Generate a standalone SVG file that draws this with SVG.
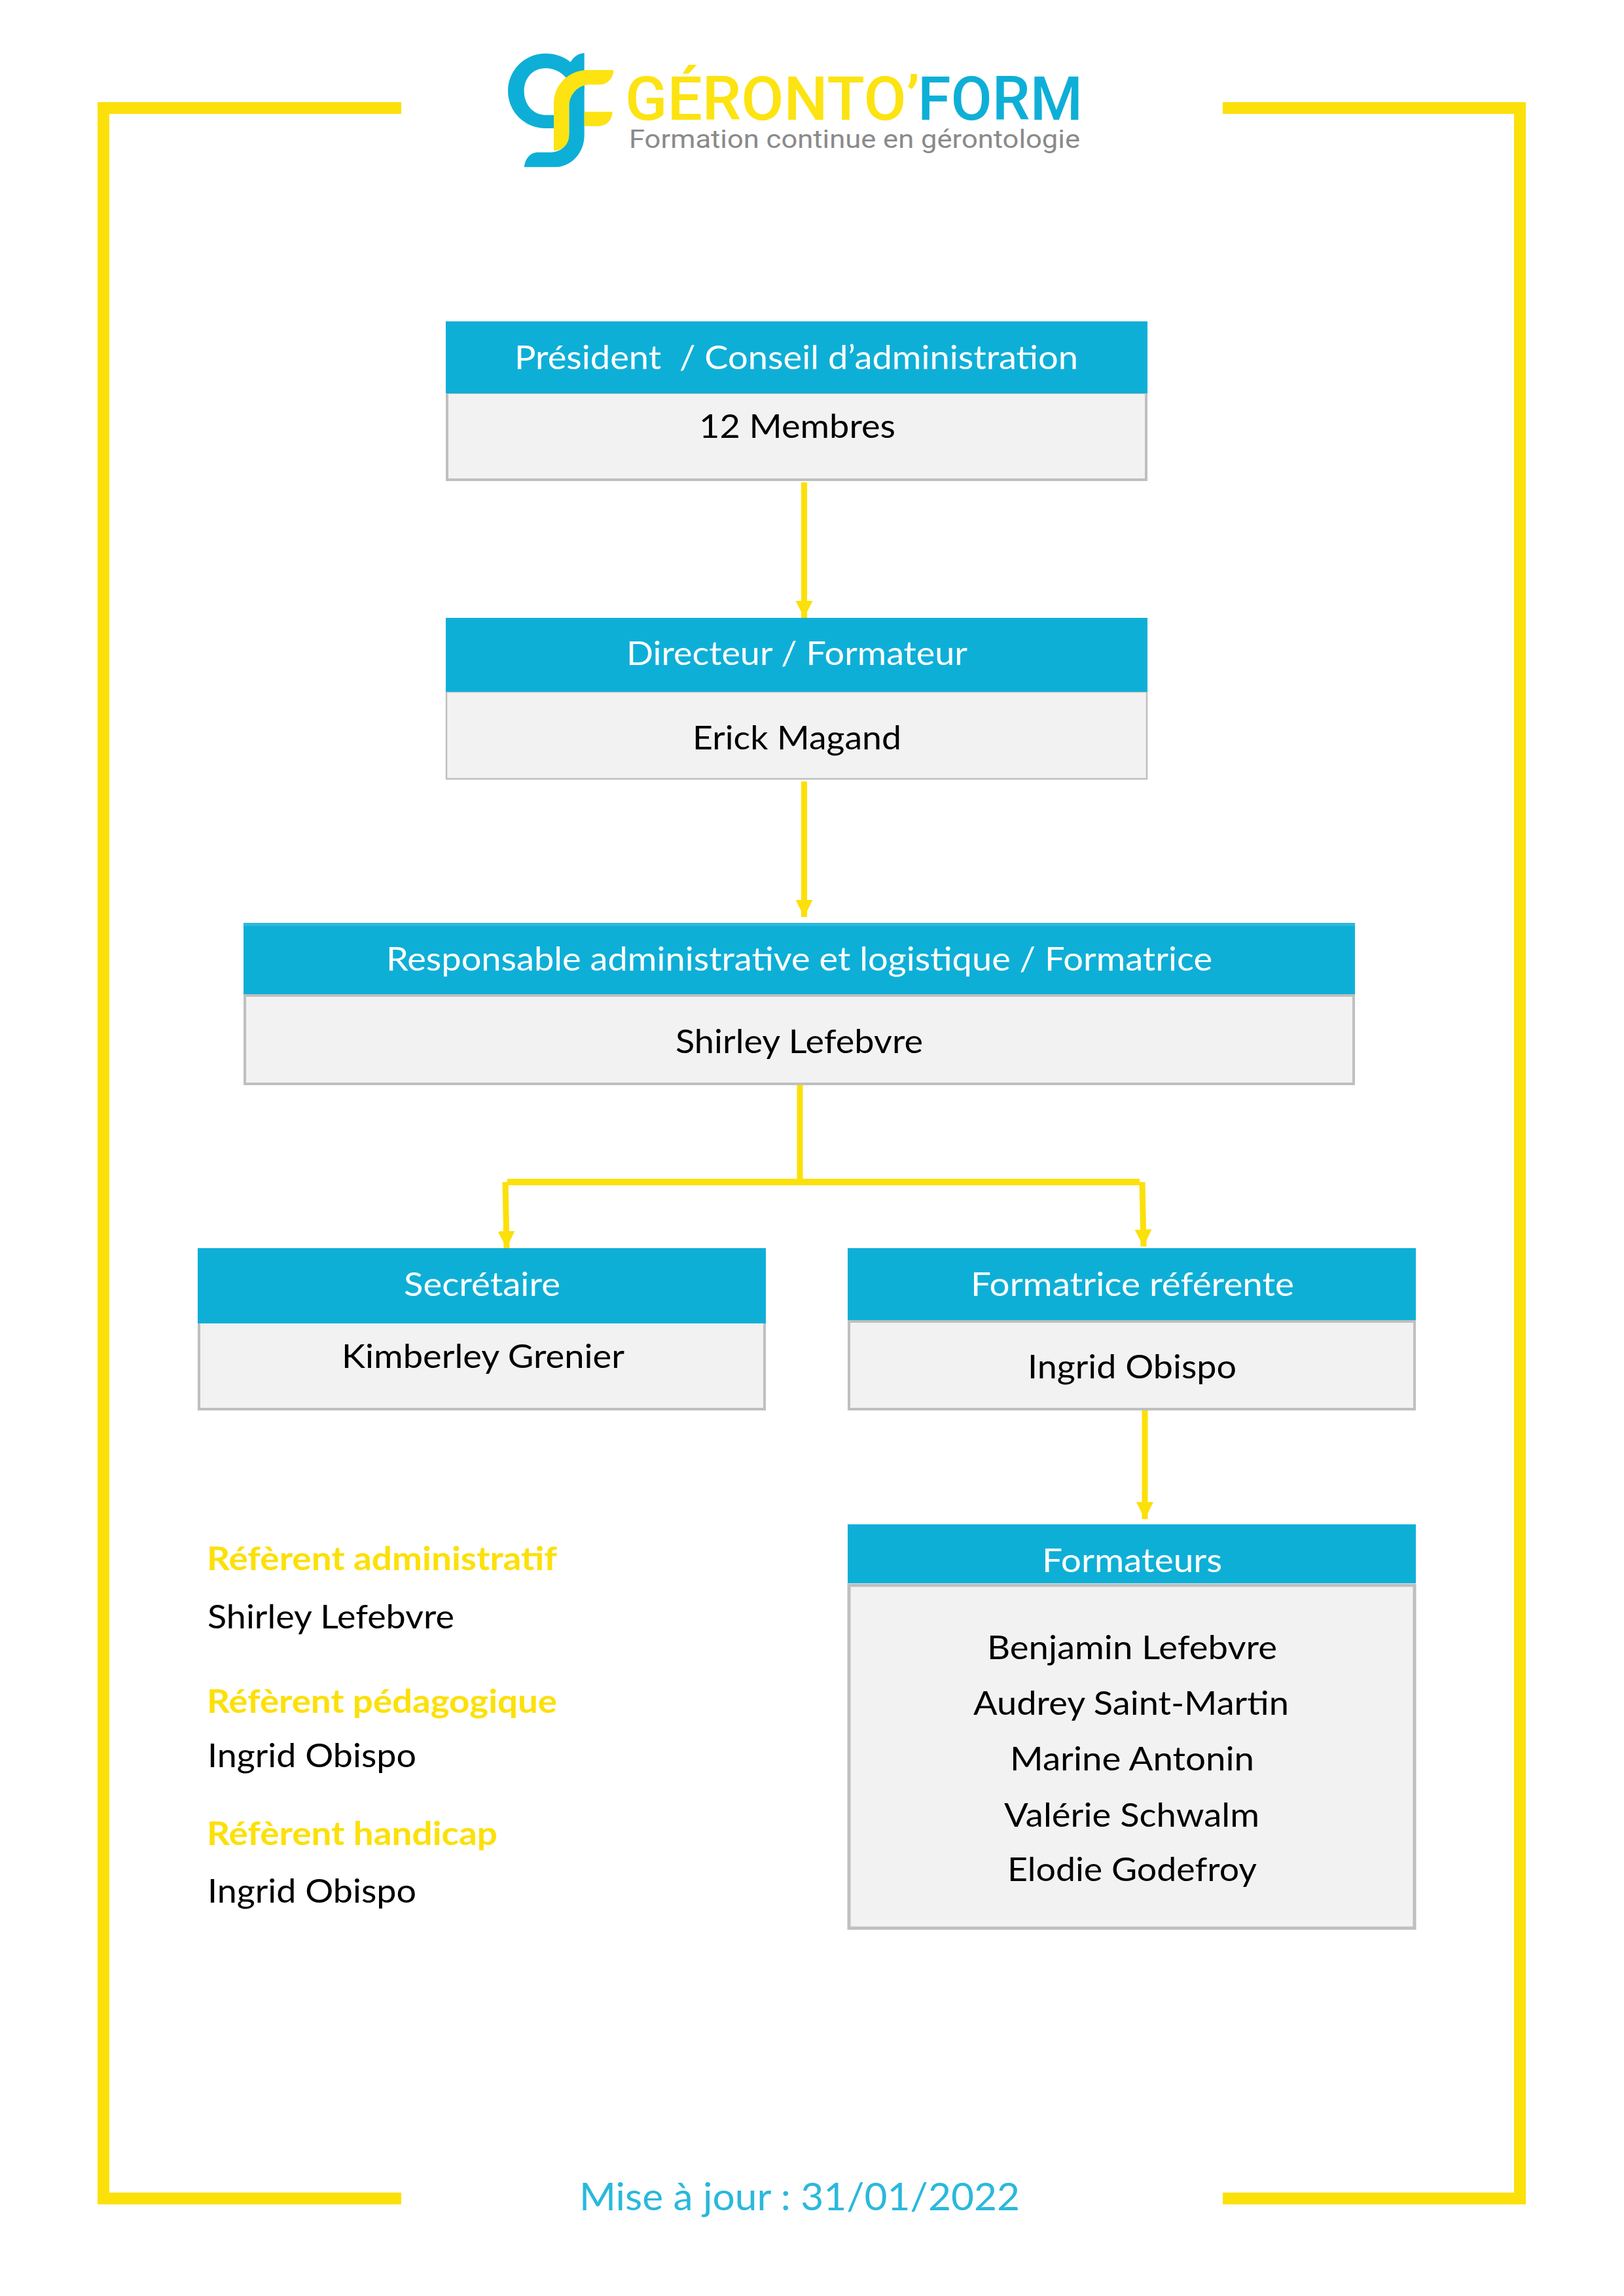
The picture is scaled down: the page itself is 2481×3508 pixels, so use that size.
<svg xmlns="http://www.w3.org/2000/svg" width="2481" height="3508" viewBox="0 0 2481 3508">
<style>
text{font-family:"Lato","Open Sans","Liberation Sans",sans-serif;font-size:50px;fill:#000}
.h{fill:#0EAFD7}
.b{fill:#F2F2F2;stroke:#BFBFBF}
.w{fill:#fff}
.y{fill:#FCE009;font-weight:700}
.f{fill:none;stroke:#FCE009;stroke-width:18}
.c{fill:none;stroke:#FCE009;stroke-width:9}
.ah{fill:#FCE009}
.lb{fill:#0EAFD7}
.ly{fill:#FCE311}
.lt{font-family:"Roboto","Liberation Sans",sans-serif}
</style>
<defs>
<marker id="arrow" markerUnits="userSpaceOnUse" markerWidth="26" markerHeight="26" refX="26" refY="13" orient="auto">
<path class="ah" d="M0 0L26 13L0 26z"/>
</marker>
</defs>
<rect width="2481" height="3508" fill="#fff"/>
<g id="frame">
<path class="f" d="M613 165H158V3359H613"/>
<path class="f" d="M1868 165H2322V3359H1868"/>
</g>
<g id="logo">
<g transform="translate(770 70) scale(.33333)">
<path class="lb" d="M368 33C340 35 320 50 305 74C272 48 232 35 190 35C95 35 18 112 18 207C18 302 95 378 190 378H240V317H190C132 317 92 268 92 208C92 148 132 103 190 103C235 103 270 125 295 160L368 200V33Z"/>
<path class="lb" d="M368 180C325 190 298 225 298 270V400C298 450 265 488 215 488H155C120 488 95 520 93 556H230C310 556 368 490 368 410V180Z"/>
<path class="ly" d="M502 111C500 150 475 178 435 178H395C340 178 298 222 298 280V410C298 450 270 480 228 480V265C228 180 295 111 385 111Z"/>
<path class="ly" d="M368 302H497C495 340 470 368 430 368H368Z"/>
</g>
<text class="lt" x="955" y="183" style="font-size:93px;font-weight:500;fill:#FCE311" textLength="450" lengthAdjust="spacingAndGlyphs">GÉRONTO’</text>
<text class="lt" x="1402" y="183" style="font-size:93px;font-weight:500;fill:#0EAFD7" textLength="252" lengthAdjust="spacingAndGlyphs">FORM</text>
<text class="lt" x="961" y="226" style="font-size:38px;fill:#8A8A8A" textLength="689" lengthAdjust="spacingAndGlyphs">Formation continue en gérontologie</text>
</g>
<g id="connectors">
<path class="c" marker-end="url(#arrow)" d="M1228.5 737V944"/>
<path class="c" marker-end="url(#arrow)" d="M1228.5 1194V1401"/>
<path class="c" d="M1222 1655V1805"/>
<path d="M775 1801H1741V1811H775z" fill="#FCE009"/>
<path class="c" marker-end="url(#arrow)" d="M772 1806L774 1907"/>
<path class="c" marker-end="url(#arrow)" d="M1745 1806L1747 1904.5"/>
<path class="c" marker-end="url(#arrow)" d="M1749 2152V2321"/>
</g>
<g id="node-president">
<rect class="b" x="683" y="600" width="1068" height="133" stroke-width="4"/>
<rect class="h" x="681" y="491" width="1072" height="110"/>
<text class="w" x="786" y="564" xml:space="preserve" textLength="861" lengthAdjust="spacingAndGlyphs">Président  / Conseil d’administration</text>
<text x="1068" y="669" textLength="300" lengthAdjust="spacingAndGlyphs">12 Membres</text>
</g>
<g id="node-directeur">
<rect class="b" x="682" y="1057" width="1070" height="133" stroke-width="2.5"/>
<rect class="h" x="681" y="944" width="1072" height="113"/>
<text class="w" x="957" y="1016" textLength="521" lengthAdjust="spacingAndGlyphs">Directeur / Formateur</text>
<text x="1058" y="1145" textLength="319" lengthAdjust="spacingAndGlyphs">Erick Magand</text>
</g>
<g id="node-responsable">
<rect class="b" x="374" y="1521" width="1694" height="135" stroke-width="4"/>
<rect class="h" x="372" y="1410" width="1698" height="109"/>
<rect x="372" y="1410" width="1698" height="5" fill="#2DB7DC"/>
<text class="w" x="590" y="1483" textLength="1262" lengthAdjust="spacingAndGlyphs">Responsable administrative et logistique / Formatrice</text>
<text x="1032" y="1609" textLength="378" lengthAdjust="spacingAndGlyphs">Shirley Lefebvre</text>
</g>
<g id="node-secretaire">
<rect class="b" x="304" y="2020" width="864" height="133" stroke-width="4"/>
<rect class="h" x="302" y="1907" width="868" height="115"/>
<text class="w" x="617" y="1980" textLength="239" lengthAdjust="spacingAndGlyphs">Secrétaire</text>
<text x="522" y="2090" textLength="432" lengthAdjust="spacingAndGlyphs">Kimberley Grenier</text>
</g>
<g id="node-formatrice">
<rect class="b" x="1297" y="2019" width="864" height="134" stroke-width="4"/>
<rect class="h" x="1295" y="1907" width="868" height="110"/>
<text class="w" x="1483" y="1980" textLength="494" lengthAdjust="spacingAndGlyphs">Formatrice référente</text>
<text x="1570" y="2106" textLength="319" lengthAdjust="spacingAndGlyphs">Ingrid Obispo</text>
</g>
<g id="node-formateurs">
<rect class="b" x="1297" y="2422" width="864" height="524" stroke-width="5"/>
<rect class="h" x="1295" y="2329" width="868" height="90"/>
<text class="w" x="1592" y="2402" textLength="275" lengthAdjust="spacingAndGlyphs">Formateurs</text>
<text x="1508" y="2535" textLength="443" lengthAdjust="spacingAndGlyphs">Benjamin Lefebvre</text>
<text x="1487" y="2620" textLength="482" lengthAdjust="spacingAndGlyphs">Audrey Saint-Martin</text>
<text x="1543" y="2705" textLength="373" lengthAdjust="spacingAndGlyphs">Marine Antonin</text>
<text x="1534" y="2791" textLength="390" lengthAdjust="spacingAndGlyphs">Valérie Schwalm</text>
<text x="1539" y="2874" textLength="381" lengthAdjust="spacingAndGlyphs">Elodie Godefroy</text>
</g>
<g id="referents">
<text class="y" x="316" y="2399" textLength="535" lengthAdjust="spacingAndGlyphs">Réfèrent administratif</text>
<text x="317" y="2488" textLength="377" lengthAdjust="spacingAndGlyphs">Shirley Lefebvre</text>
<text class="y" x="316" y="2617" textLength="535" lengthAdjust="spacingAndGlyphs">Réfèrent pédagogique</text>
<text x="317" y="2700" textLength="319" lengthAdjust="spacingAndGlyphs">Ingrid Obispo</text>
<text class="y" x="316" y="2819" textLength="444" lengthAdjust="spacingAndGlyphs">Réfèrent handicap</text>
<text x="317" y="2907" textLength="319" lengthAdjust="spacingAndGlyphs">Ingrid Obispo</text>
</g>
<text id="maj" x="885" y="3377" style="font-size:58px;fill:#2AB8DC" textLength="673" lengthAdjust="spacingAndGlyphs">Mise à jour : 31/01/2022</text>
</svg>
